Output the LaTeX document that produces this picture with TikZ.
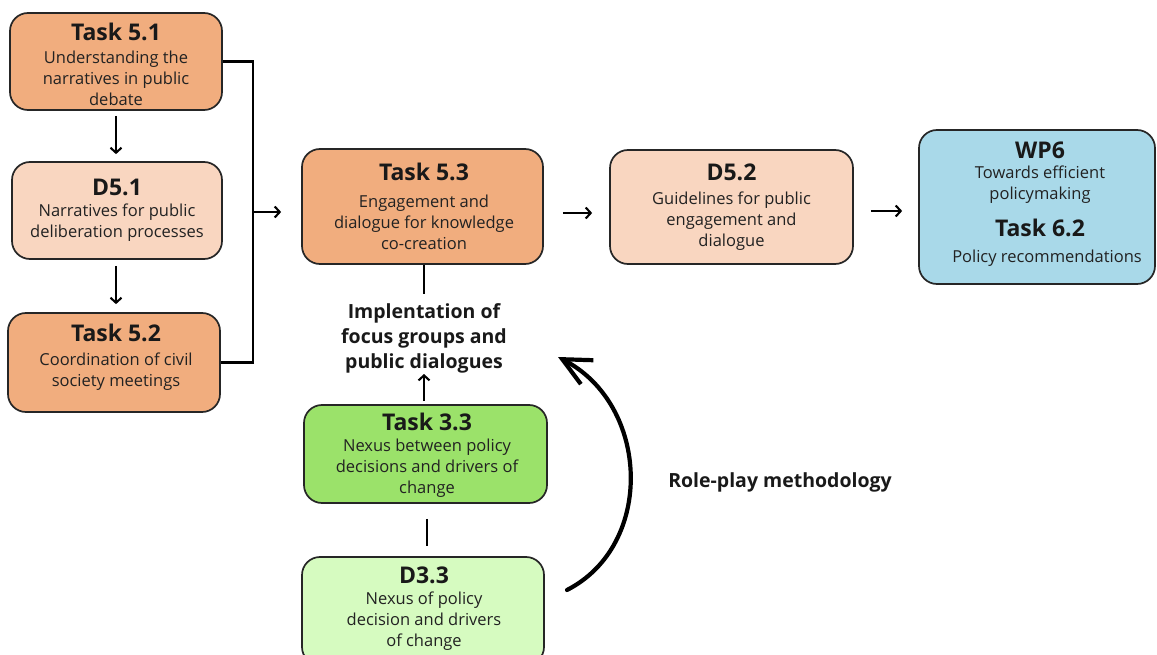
\documentclass[tikz,border=0pt]{standalone}
\usepackage{fontspec}
\setmainfont{Open Sans}
\usetikzlibrary{arrows.meta}
\definecolor{torange}{HTML}{F1AD7E}
\definecolor{tpeach}{HTML}{F9D6C0}
\definecolor{tblue}{HTML}{A9D9E9}
\definecolor{tgreen}{HTML}{9BE26A}
\definecolor{tlgreen}{HTML}{D6FBC0}
\definecolor{txt}{HTML}{222222}
\begin{document}
\begin{tikzpicture}[x=1pt,y=-1pt,
  box/.style={draw=black!85, line width=1.7pt, rounded corners=18pt, inner sep=0pt},
  ttl/.style={font=\fontsize{23}{27}\selectfont\bfseries, inner sep=0pt, text=black!90},
  bod/.style={font=\fontsize{16.5}{21}\selectfont, align=center, inner sep=0pt, text=txt},
  lbl/.style={font=\fontsize{19.5}{25}\selectfont\bfseries, align=center, inner sep=0pt, text=black!90},
  arr/.style={-{Straight Barb[length=5pt,width=11pt]}, line width=2.1pt},
  ln/.style={line width=2.1pt}
]
\useasboundingbox (0,0) rectangle (1157,655);
\clip (0,0) rectangle (1157,655);

% left column
\node[box, fill=torange, minimum width=212pt, minimum height=97pt] (t51) at (116,61.5) {};
\node[ttl] (t51t) at (116,32) {Task 5.1};
\node[bod] (t51b) at (116,78) {Understanding the\\narratives in public\\debate};

\node[box, fill=tpeach, minimum width=210pt, minimum height=97pt] (d51) at (117,210.5) {};
\node[ttl] (d51t) at (117,187) {D5.1};
\node[bod] (d51b) at (117,223) {Narratives for public\\deliberation processes};

\node[box, fill=torange, minimum width=212pt, minimum height=99pt] (t52) at (114,362.5) {};
\node[ttl] (t52t) at (116,333) {Task 5.2};
\node[bod] (t52b) at (116,372) {Coordination of civil\\society meetings};

% middle
\node[box, fill=torange, minimum width=241pt, minimum height=115pt] (t53) at (422.5,206.5) {};
\node[ttl] (t53t) at (424,172) {Task 5.3};
\node[bod] (t53b) at (424,222) {Engagement and\\dialogue for knowledge\\co-creation};

\node[box, fill=tpeach, minimum width=243pt, minimum height=114pt] (d52) at (731.5,207) {};
\node[ttl] (d52t) at (731.5,172) {D5.2};
\node[bod] (d52b) at (731.5,221) {Guidelines for public\\engagement and\\dialogue};

\node[box, fill=tblue, minimum width=236pt, minimum height=154pt] (wp6) at (1037,207) {};
\node[ttl] (wp6t) at (1040,150) {WP6};
\node[bod] (wp6b) at (1040,185) {Towards efficient\\policymaking};
\node[ttl] (t62t) at (1040,228) {Task 6.2};
\node[bod] (t62b) at (1047,258) {Policy recommendations};

\node[lbl] (impl) at (424,338) {Implentation of\\focus groups and\\public dialogues};

\node[box, fill=tgreen, minimum width=243pt, minimum height=98pt] (t33) at (425.5,454) {};
\node[ttl] (t33t) at (427,422) {Task 3.3};
\node[bod] (t33b) at (427,468) {Nexus between policy\\decisions and drivers of\\change};

\node[box, fill=tlgreen, minimum width=242pt, minimum height=108pt] (d33) at (423,611) {};
\node[ttl] (d33t) at (424,575) {D3.3};
\node[bod] (d33b) at (424,621.5) {Nexus of policy\\decision and drivers\\of change};

\node[lbl] (rp) at (780,482) {Role-play methodology};

% connectors
\draw[arr, shorten <=5pt, shorten >=7pt] (t51.south -| 116,0) -- (d51.north -| 116,0);
\draw[arr, shorten <=6pt, shorten >=8pt] (d51.south -| 116,0) -- (t52.north -| 116,0);
\coordinate (jn) at (253,212);
\draw[ln] (t51.east) -| (jn) |- (t52.east);
\draw[arr, shorten >=20pt] (jn) -- (t53.west |- jn);
\draw[arr, shorten <=19pt, shorten >=17pt] (t53.east |- 0,213) -- (d52.west |- 0,213);
\draw[arr, shorten <=17pt, shorten >=16pt] (d52.east |- 0,211) -- (wp6.west |- 0,211);
\draw[ln, shorten >=9pt] (impl.north |- t53.south) -- (impl.north);
\draw[arr, shorten <=3pt, shorten >=1pt] (impl.south |- t33.north) -- (impl.south);
\draw[ln, shorten <=15pt, shorten >=10pt] (t33.south -| 427,0) -- (d33.north -| 427,0);

\coordinate (rpS) at (567,590);
\coordinate (rpE) at (558,357);
\draw[line width=4.2pt, line cap=round, -{Straight Barb[length=28pt,width=27pt]}] (rpS) .. controls (655,545) and (650,405) .. (rpE);
\end{tikzpicture}
\end{document}
